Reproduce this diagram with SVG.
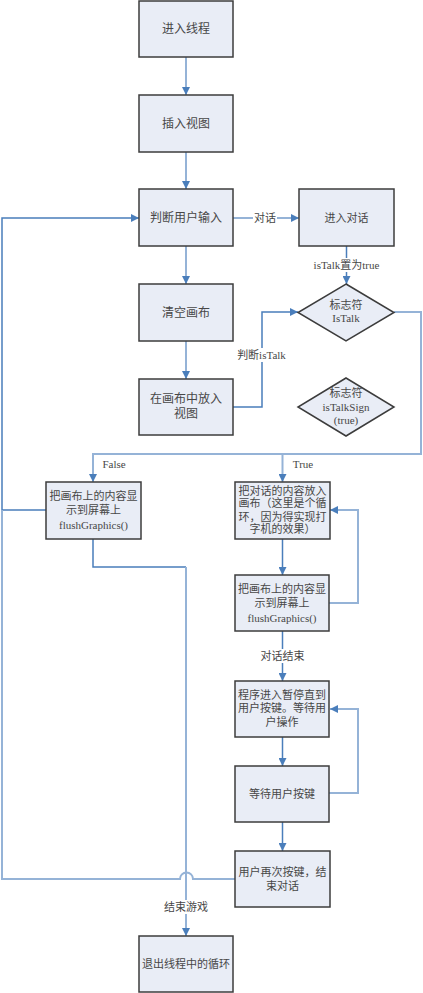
<svg xmlns="http://www.w3.org/2000/svg" width="423" height="993" viewBox="0 0 423 993">
<defs>
<marker id="ah" viewBox="0 0 8 8" refX="8" refY="4" markerWidth="8" markerHeight="8" markerUnits="userSpaceOnUse" orient="auto">
<path d="M0,0 L8,4 L0,8 Z" fill="#4a7ebb"/>
</marker>
</defs>
<style>
.box{fill:#e9edf6;stroke:#3c3c3c;stroke-width:1.5}
.t{font-family:"Liberation Serif","Noto Sans CJK SC",serif;font-size:11px;fill:#474747;text-anchor:middle;dominant-baseline:central}
.t12{font-size:12px}
.lt{fill:none;stroke:#95b3d7;stroke-width:2}
.dk{fill:none;stroke:#4a7ebb;stroke-width:1.5}
.lbg{fill:#ffffff}
</style>
<rect width="423" height="993" fill="#ffffff"/>
<g id="connectors">
<path class="lt" d="M186,57 V95" marker-end="url(#ah)"/>
<path class="lt" d="M186,152 V189" marker-end="url(#ah)"/>
<path class="lt" d="M233,218 H299" marker-end="url(#ah)"/>
<path class="dk" d="M346.5,246 V284" marker-end="url(#ah)"/>
<path class="lt" d="M186,246 V284" marker-end="url(#ah)"/>
<path class="lt" d="M186,341 V379" marker-end="url(#ah)"/>
<path class="dk" d="M233,407 H262 V312 H298" marker-end="url(#ah)"/>
<path class="lt" d="M394,312 H421 V454 H93 V482" marker-end="url(#ah)"/>
<path class="lt" d="M282.5,454 V482" marker-end="url(#ah)"/>
<path class="dk" d="M46,510 H2 V218 H139" marker-end="url(#ah)"/>
<path class="dk" d="M93,539 V567 H186"/>
<path class="lt" d="M186,567 V936" marker-end="url(#ah)"/>
<path class="dk" d="M282.5,539 V575" marker-end="url(#ah)"/>
<path class="lt" d="M329,603 H358 V510 H330" marker-end="url(#ah)"/>
<path class="dk" d="M282.5,631 V681" marker-end="url(#ah)"/>
<path class="dk" d="M282.5,737 V766" marker-end="url(#ah)"/>
<path class="lt" d="M329,793 H358 V709 H330" marker-end="url(#ah)"/>
<path class="dk" d="M282.5,822 V851" marker-end="url(#ah)"/>
<path class="lt" d="M235,879 H193 A6.5,6.5 0 0 0 180,879 H2 V510"/>
<rect class="lbg" x="253" y="211" width="24" height="14"/>
<text class="t" x="265" y="218">对话</text>
<rect class="lbg" x="313" y="258" width="67" height="14"/>
<text class="t" x="346.5" y="265">isTalk置为true</text>
<rect class="lbg" x="237" y="348" width="49" height="14"/>
<text class="t" x="261.5" y="355">判断isTalk</text>
<text class="t" x="114" y="464">False</text>
<text class="t" x="303" y="464">True</text>
<rect class="lbg" x="261" y="649" width="44" height="14"/>
<text class="t" x="282.5" y="656">对话结束</text>
<rect class="lbg" x="164" y="900" width="44" height="14"/>
<text class="t" x="186" y="907">结束游戏</text>
</g>
<g id="n1"><rect class="box" x="139" y="1" width="94" height="56"/><text class="t t12" x="186" y="29">进入线程</text></g>
<g id="n2"><rect class="box" x="139" y="95" width="94" height="57"/><text class="t t12" x="186" y="123.5">插入视图</text></g>
<g id="n3"><rect class="box" x="139" y="189" width="94" height="57"/><text class="t t12" x="186" y="218">判断用户输入</text></g>
<g id="n4"><rect class="box" x="299" y="189" width="95" height="57"/><text class="t" x="346.5" y="218">进入对话</text></g>
<g id="n5"><rect class="box" x="139" y="284" width="94" height="57"/><text class="t t12" x="186" y="312.5">清空画布</text></g>
<g id="n6"><rect class="box" x="139" y="379" width="94" height="56"/><text class="t t12" x="186" y="399">在画布中放入</text><text class="t t12" x="186" y="414">视图</text></g>
<g id="d1"><path class="box" d="M346,284 L394,312.5 L346,341 L298,312.5 Z"/><text class="t" x="346" y="305">标志符</text><text class="t" x="346" y="318">IsTalk</text></g>
<g id="d2"><path class="box" d="M346,378 L394,407 L346,436 L298,407 Z"/><text class="t" x="346" y="393">标志符</text><text class="t" x="346" y="407">isTalkSign</text><text class="t" x="346" y="419.5">(true)</text></g>
<g id="n7"><rect class="box" x="46" y="482" width="95" height="57"/><text class="t" x="93.5" y="495.5">把画布上的内容显</text><text class="t" x="93.5" y="510">示到屏幕上</text><text class="t" x="93.5" y="524.5">flushGraphics()</text></g>
<g id="n8"><rect class="box" x="235" y="482" width="95" height="57"/><text class="t" x="282.5" y="490.5">把对话的内容放入</text><text class="t" x="282.5" y="503">画布（这里是个循</text><text class="t" x="282.5" y="516.5">环，因为得实现打</text><text class="t" x="282.5" y="529">字机的效果）</text></g>
<g id="n9"><rect class="box" x="235" y="575" width="94" height="56"/><text class="t" x="282" y="588.5">把画布上的内容显</text><text class="t" x="282" y="603">示到屏幕上</text><text class="t" x="282" y="617.5">flushGraphics()</text></g>
<g id="n10"><rect class="box" x="235" y="681" width="94" height="56"/><text class="t" x="282" y="694.5">程序进入暂停直到</text><text class="t" x="282" y="708">用户按键。等待用</text><text class="t" x="282" y="722">户操作</text></g>
<g id="n11"><rect class="box" x="235" y="766" width="94" height="56"/><text class="t" x="282" y="793.5">等待用户按键</text></g>
<g id="n12"><rect class="box" x="235" y="851" width="95" height="56"/><text class="t" x="282.5" y="871.5">用户再次按键，结</text><text class="t" x="282.5" y="885.5">束对话</text></g>
<g id="n13"><rect class="box" x="139" y="936" width="94" height="56"/><text class="t" x="186" y="964">退出线程中的循环</text></g>
</svg>
